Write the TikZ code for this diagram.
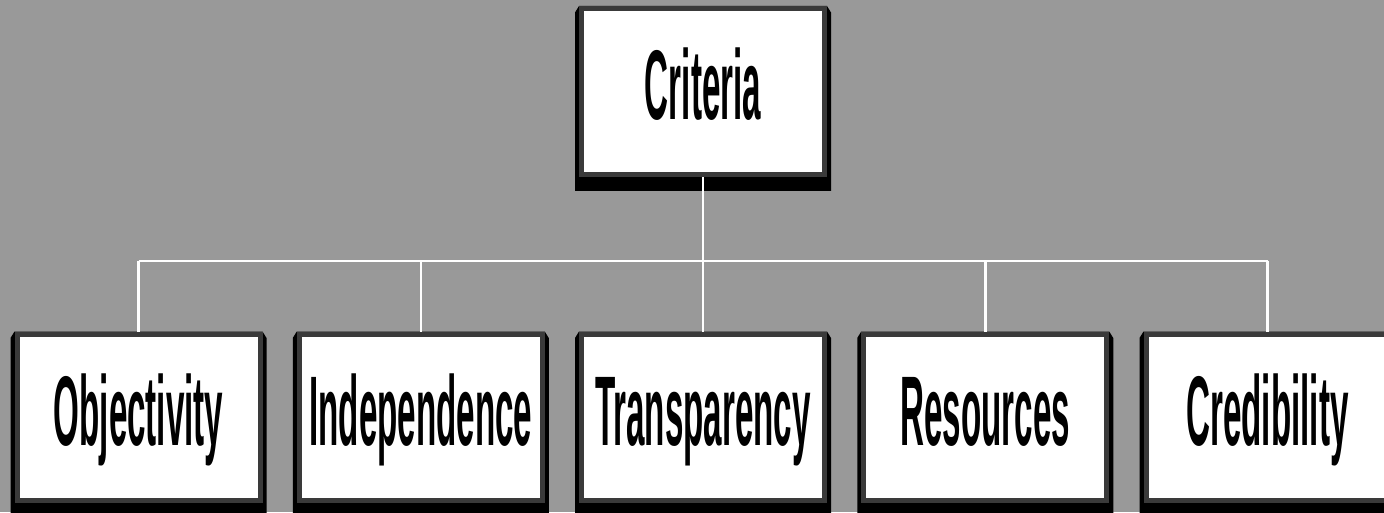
\documentclass[tikz,border=0pt]{standalone}
\usepackage{fontspec}
\usepackage{tikz}
\usepackage{xcolor}
\usetikzlibrary{backgrounds}
\newfontfamily\boxfont{Liberation Sans}[FakeStretch=0.335]
\definecolor{slide-grey}{HTML}{999999}
\definecolor{border-grey}{HTML}{3A3A3A}
\tikzset{
    x=1pt, y=1pt,
    criteria-box/.style = {draw=border-grey, fill=white, line width=5pt, rectangle, inner sep=0pt, outer sep=0pt,
        minimum width=243pt, minimum height=166pt, text height=57pt, text depth=0pt,
        font=\boxfont\bfseries\fontsize{99}{99}\selectfont},
    criteria-frame/.style = {fill=black},
    criteria-link/.style = {draw=white, line width=2.5pt},
}

\begin{document}
\begin{tikzpicture}
\useasboundingbox (0,0) rectangle (1384,512);
\clip (0,0) rectangle (1384,512);

\coordinate (bus) at (703,251);

\node[criteria-box] (criteria) at (703,420.5) {Criteria};
\node[criteria-box] (objectivity) at (138.5,95) {Objectivity};
\node[criteria-box] (independence) at (420.75,95) {Independence};
\node[criteria-box] (transparency) at (703,95) {Transparency};
\node[criteria-box] (resources) at (985.25,95) {Resources};
\node[criteria-box] (credibility) at (1267.5,95) {Credibility};

\begin{scope}[on background layer]
\fill[slide-grey] (0,0) rectangle (1384,512);
% black frame behind every box
\foreach \b in {criteria,objectivity,independence,transparency,resources,credibility}
    \fill[criteria-frame] ([xshift=-6.5pt, yshift=-4pt]\b.north west) -- ([xshift=-2.5pt, yshift=2.5pt]\b.north west)
        -- ([xshift=2.5pt, yshift=2.5pt]\b.north east) -- ([xshift=6.5pt, yshift=-4pt]\b.north east)
        -- ([xshift=6.5pt, yshift=-16.5pt]\b.south east) -- ([xshift=-6.5pt, yshift=-16.5pt]\b.south west) -- cycle;
\end{scope}

% connectors
\draw[criteria-link] ([yshift=-2.5pt]criteria.south) -- (bus);
\draw[criteria-link] (objectivity.north |- bus) -- (credibility.north |- bus);
\foreach \b in {objectivity,independence,transparency,resources,credibility}
    \draw[criteria-link] (\b.north |- bus) -- ([yshift=2.5pt]\b.north);
\end{tikzpicture}
\end{document}
